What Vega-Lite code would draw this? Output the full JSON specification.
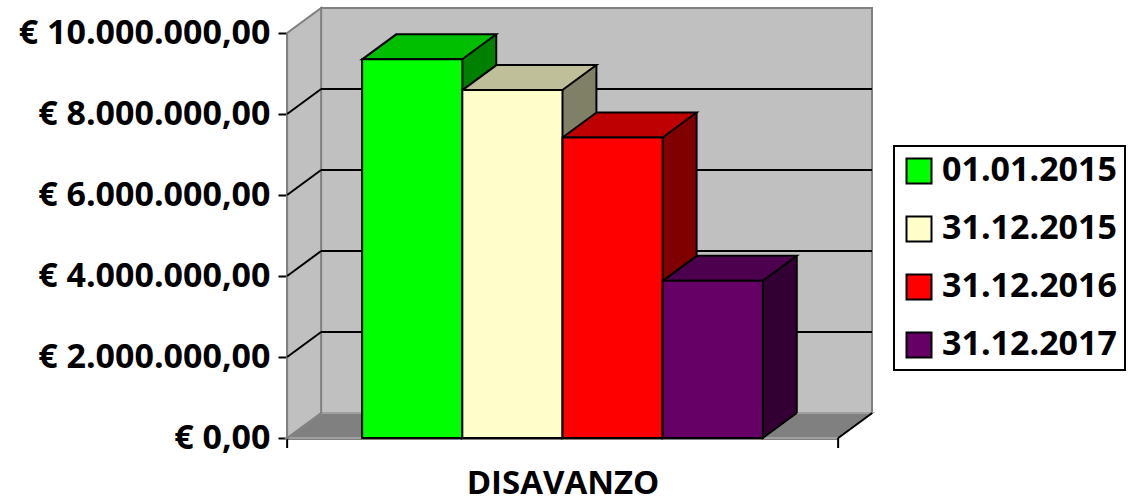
{
  "$schema": "https://vega.github.io/schema/vega-lite/v6.json",
  "width": 551,
  "height": 405,
  "autosize": {"type": "none"},
  "padding": {"left": 321, "top": 8, "right": 266, "bottom": 91},
  "background": "white",
  "config": {
    "locale": {"number": {"decimal": ",", "thousands": ".", "grouping": [3], "currency": ["€ ", ""]}},
    "view": {"fill": "#c0c0c0", "stroke": "#808080", "strokeWidth": 2},
    "font": "Open Sans",
    "legend": {"strokeWidth": 2}
  },
  "datasets": {
    "barre": [
      {"categoria": "DISAVANZO", "data": "01.01.2015", "importo": 9350000},
      {"categoria": "DISAVANZO", "data": "31.12.2015", "importo": 8590000},
      {"categoria": "DISAVANZO", "data": "31.12.2016", "importo": 7420000},
      {"categoria": "DISAVANZO", "data": "31.12.2017", "importo": 3880000}
    ],
    "griglia": [
      {"v": 0}, {"v": 2000000}, {"v": 4000000}, {"v": 6000000}, {"v": 8000000}, {"v": 10000000}
    ]
  },
  "resolve": {"scale": {"fill": "independent"}, "legend": {"fill": "independent"}},
  "layer": [
    {
      "data": {"name": "griglia"},
      "transform": [{"filter": "datum.v == 0"}],
      "mark": {"type": "point", "shape": "M -75 0 L 476 0 L 442 25 L -109 25 Z", "size": 4, "filled": true, "fill": "#808080", "stroke": "#a0a0a0", "strokeWidth": 2, "opacity": 1},
      "encoding": {
        "x": {"datum": "01.01.2015", "type": "nominal", "bandPosition": 0, "title": "DISAVANZO",
              "scale": {"domain": ["01.01.2015", "31.12.2015", "31.12.2016", "31.12.2017"], "paddingInner": 0, "paddingOuter": 0.75},
              "axis": {"title": "DISAVANZO", "labels": false, "ticks": false, "offset": 25, "position": -34,
                       "domainColor": "black", "domainWidth": 2,
                       "titleFont": "Open Sans", "titleFontSize": 33, "titleFontWeight": "bold", "titleColor": "black", "titlePadding": 29}},
        "y": {"field": "v", "type": "quantitative", "title": null,
              "scale": {"domain": [0, 10000000], "nice": false, "zero": true},
              "axis": {"title": null, "offset": 34, "position": 25, "values": [0, 2000000, 4000000, 6000000, 8000000, 10000000],
                       "format": "$,.2f", "grid": false, "labelLimit": 400,
                       "domainColor": "black", "domainWidth": 2, "tickColor": "black", "tickWidth": 2, "tickSize": 9,
                       "labelFont": "Open Sans", "labelFontSize": 34, "labelFontWeight": "bold", "labelColor": "black", "labelPadding": 8}}
      }
    },
    {
      "data": {"name": "griglia"},
      "transform": [{"filter": "datum.v == 0"}],
      "mark": {"type": "point", "shape": "M 476 0 L 442 25 M -109 25 L -109 35 M 442 25 L 442 35", "size": 4, "filled": false, "stroke": "black", "strokeWidth": 2, "opacity": 1},
      "encoding": {
        "x": {"datum": "01.01.2015", "type": "nominal", "bandPosition": 0, "title": "DISAVANZO"},
        "y": {"field": "v", "type": "quantitative", "title": null}
      }
    },
    {
      "data": {"name": "griglia"},
      "transform": [{"filter": "datum.v == 0"}],
      "mark": {"type": "point", "shape": "M -75 0 L -75 -405 L -109 -380 L -109 25 Z", "size": 4, "filled": true, "fill": "#c0c0c0", "stroke": "#808080", "strokeWidth": 2, "opacity": 1},
      "encoding": {
        "x": {"datum": "01.01.2015", "type": "nominal", "bandPosition": 0, "title": "DISAVANZO"},
        "y": {"field": "v", "type": "quantitative", "title": null}
      }
    },
    {
      "data": {"name": "griglia"},
      "transform": [{"filter": "datum.v > 0 && datum.v < 10000000"}],
      "mark": {"type": "rule", "stroke": "black", "strokeWidth": 2},
      "encoding": {
        "y": {"field": "v", "type": "quantitative", "title": null}
      }
    },
    {
      "data": {"name": "griglia"},
      "transform": [{"filter": "datum.v > 0 && datum.v < 10000000"}],
      "mark": {"type": "point", "shape": "M -75 0 L -109 25", "size": 4, "filled": false, "stroke": "black", "strokeWidth": 2, "opacity": 1},
      "encoding": {
        "x": {"datum": "01.01.2015", "type": "nominal", "bandPosition": 0, "title": "DISAVANZO"},
        "y": {"field": "v", "type": "quantitative", "title": null}
      }
    },
    {
      "data": {"name": "barre"},
      "mark": {"type": "bar", "strokeWidth": 0},
      "encoding": {
        "x": {"field": "data", "type": "nominal", "title": "DISAVANZO"},
        "y": {"field": "importo", "type": "quantitative", "title": null},
        "fill": {"field": "data", "type": "nominal", "legend": null,
                 "scale": {"domain": ["01.01.2015", "31.12.2015", "31.12.2016", "31.12.2017"], "range": ["#008000", "#808066", "#800000", "#330033"]}}
      }
    },
    {
      "data": {"name": "barre"},
      "mark": {"type": "point", "shape": "M 16 0 L 16 25 L 50 0", "size": 4, "filled": true, "stroke": "black", "strokeWidth": 2, "opacity": 1},
      "encoding": {
        "x": {"field": "data", "type": "nominal", "title": "DISAVANZO"},
        "y": {"datum": 0, "type": "quantitative", "title": null},
        "fill": {"field": "data", "type": "nominal", "legend": null,
                 "scale": {"domain": ["01.01.2015", "31.12.2015", "31.12.2016", "31.12.2017"], "range": ["#008000", "#808066", "#800000", "#330033"]}}
      }
    },
    {
      "data": {"name": "barre"},
      "mark": {"type": "rule", "xOffset": 50, "x2Offset": 50, "stroke": "black", "strokeWidth": 2},
      "encoding": {
        "x": {"field": "data", "type": "nominal", "title": "DISAVANZO"},
        "y": {"field": "importo", "type": "quantitative", "title": null},
        "y2": {"datum": 0}
      }
    },
    {
      "data": {"name": "barre"},
      "mark": {"type": "point", "shape": "M -50 0 L 50 0 L 16 25 L -84 25 Z", "size": 4, "filled": true, "stroke": "black", "strokeWidth": 2, "opacity": 1},
      "encoding": {
        "x": {"field": "data", "type": "nominal", "title": "DISAVANZO"},
        "y": {"field": "importo", "type": "quantitative", "title": null},
        "fill": {"field": "data", "type": "nominal", "legend": null,
                 "scale": {"domain": ["01.01.2015", "31.12.2015", "31.12.2016", "31.12.2017"], "range": ["#00bf00", "#bfbf99", "#bf0000", "#4d004d"]}}
      }
    },
    {
      "data": {"name": "barre"},
      "mark": {"type": "bar", "xOffset": -34, "x2Offset": -34, "yOffset": 25, "y2Offset": 25, "stroke": "black", "strokeWidth": 2},
      "encoding": {
        "x": {"field": "data", "type": "nominal", "title": "DISAVANZO"},
        "y": {"field": "importo", "type": "quantitative", "title": null},
        "fill": {"field": "data", "type": "nominal",
                 "scale": {"domain": ["01.01.2015", "31.12.2015", "31.12.2016", "31.12.2017"], "range": ["#00ff00", "#ffffcc", "#ff0000", "#660066"]},
                 "legend": {"title": null, "orient": "none", "legendX": 573, "legendY": 138,
                            "symbolType": "square", "symbolSize": 625, "symbolStrokeColor": "black", "symbolStrokeWidth": 2, "symbolOpacity": 1,
                            "labelFont": "Open Sans", "labelFontSize": 34, "labelFontWeight": "bold", "labelColor": "black", "labelOffset": 6, "labelLimit": 400,
                            "rowPadding": 24, "padding": 8, "strokeColor": "black", "fillColor": "white"}}
      }
    }
  ]
}
